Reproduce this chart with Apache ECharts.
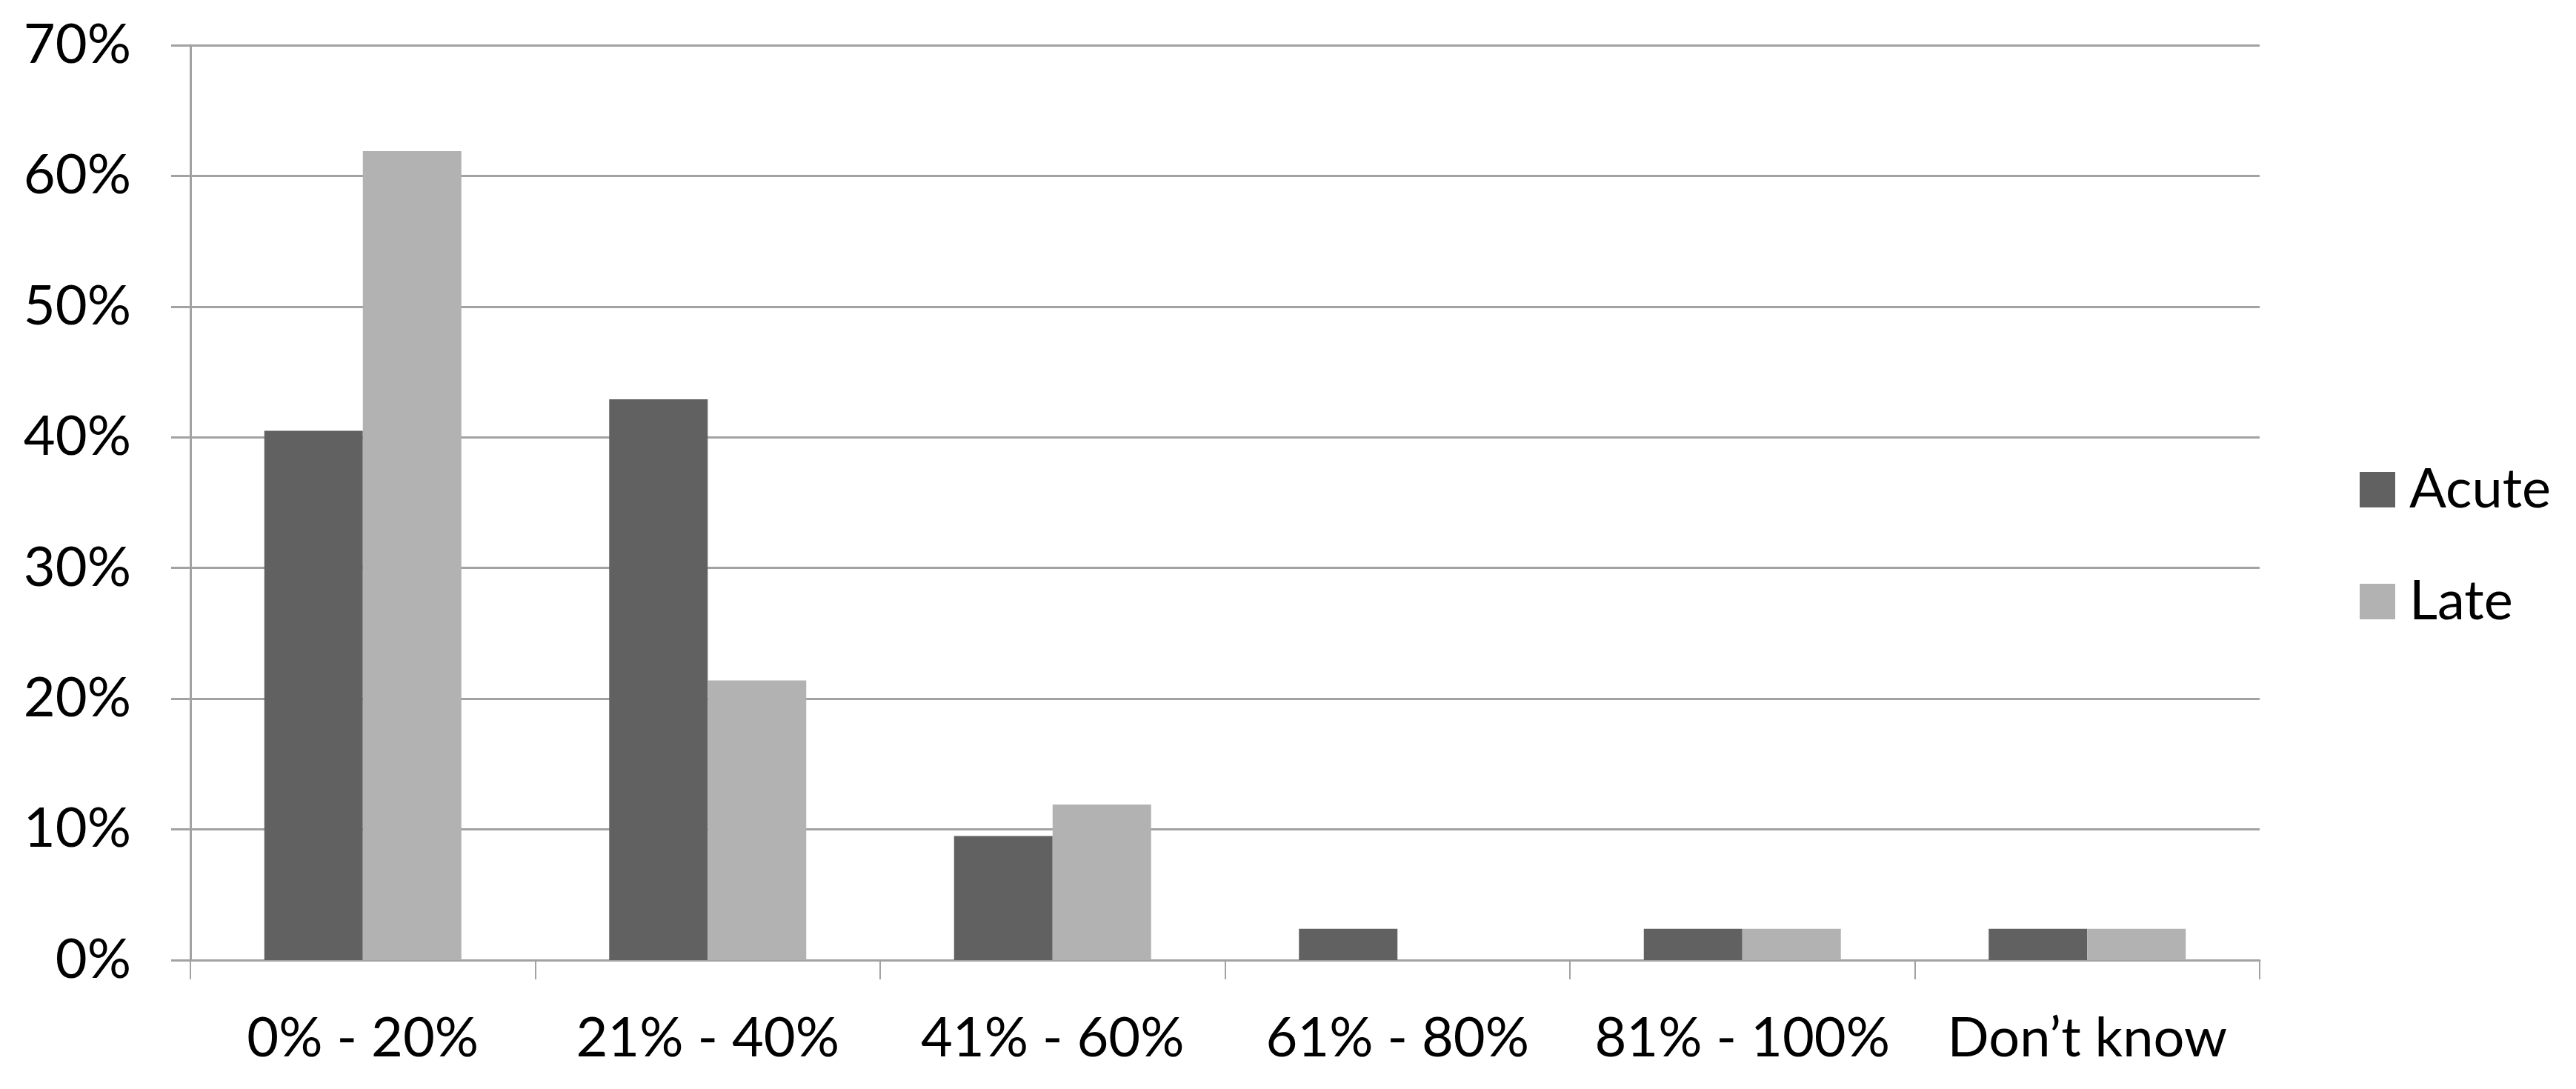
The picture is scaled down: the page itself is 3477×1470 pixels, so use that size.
<!DOCTYPE html>
<html>
<head>
<meta charset="utf-8">
<script src="https://cdn.jsdelivr.net/npm/echarts@6/dist/echarts.min.js"></script>
<style>
  html, body { margin: 0; padding: 0; background: #fff; }
  #chart { width: 3477px; height: 1470px; }
</style>
</head>
<body>
<div id="chart"></div>
<script>
// 数据
const categories = ['0% - 20%', '21% - 40%', '41% - 60%', '61% - 80%', '81% - 100%', 'Don\u2019t know'];
const acute = [40.5, 42.9, 9.5, 2.4, 2.4, 2.4];
const late = [61.9, 21.4, 11.9, 0, 2.4, 2.4];
const seriesNames = ['Acute', 'Late'];

const acuteColor = '#616161';
const lateColor = '#b2b2b2';
const lineColor = '#a2a2a2';
const fontFamily = 'Lato';

const chart = echarts.init(document.getElementById('chart'));

const option = {
  animation: false,
  backgroundColor: '#fff',
  grid: {
    left: 257,
    right: 427,
    top: 61,
    bottom: 174
  },
  legend: {
    orient: 'vertical',
    left: 3185,
    top: 624,
    padding: 0,
    icon: 'rect',
    itemWidth: 48,
    itemHeight: 48,
    itemGap: 77,
    data: seriesNames,
    textStyle: {
      fontFamily: fontFamily,
      fontSize: 74,
      lineHeight: 74,
      color: '#000',
      padding: [0, 0, 0, 14]
    }
  },
  xAxis: {
    type: 'category',
    data: categories,
    axisLine: {lineStyle: {color: lineColor, width: 3}},
    axisTick: {show: true, interval: 0, length: 26, lineStyle: {color: lineColor, width: 2}},
    axisLabel: {
      interval: 0,
      margin: 69,
      fontFamily: fontFamily,
      fontSize: 74,
      color: '#000'
    }
  },
  yAxis: {
    type: 'value',
    min: 0,
    max: 70,
    interval: 10,
    axisLine: {show: true, lineStyle: {color: lineColor, width: 3}},
    axisTick: {show: true, length: 26, lineStyle: {color: lineColor, width: 3}},
    splitLine: {lineStyle: {color: lineColor, width: 3}},
    axisLabel: {
      margin: 80,
      formatter: '{value}%',
      fontFamily: fontFamily,
      fontSize: 74,
      color: '#000'
    }
  },
  series: [
    {
      name: 'Acute',
      type: 'bar',
      data: acute,
      barWidth: '28.57%',
      barGap: '0%',
      itemStyle: {color: acuteColor}
    },
    {
      name: 'Late',
      type: 'bar',
      data: late,
      barWidth: '28.57%',
      barGap: '0%',
      itemStyle: {color: lateColor}
    }
  ]
};

chart.setOption(option);
</script>
</body>
</html>
